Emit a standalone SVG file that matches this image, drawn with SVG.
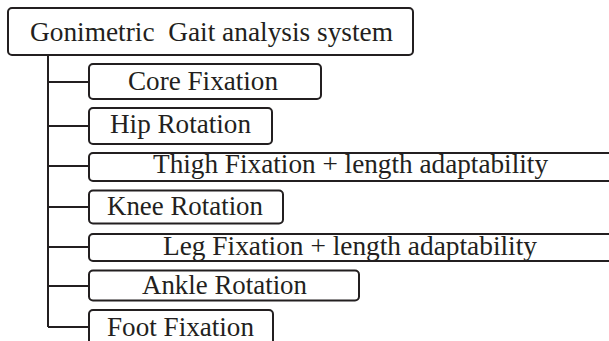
<svg xmlns="http://www.w3.org/2000/svg" width="609" height="341" viewBox="0 0 609 341">
<style>
.box{fill:#fff;stroke:#231f20;stroke-width:2}
.lbl{font-family:"Liberation Serif","Times New Roman",serif;font-size:26.5px;fill:#231f20}
.conn{fill:none;stroke:#231f20;stroke-width:2}
</style>
<rect width="609" height="341" fill="#fff"/>
<g id="connectors">
<path class="conn" d="M48 55V327M48 82H89M48 126H89M48 166H89M48 207H89M48 247H89M48 286H89M48 327H89"/>
</g>
<g id="root">
<rect class="box" x="8" y="8" width="405" height="47" rx="4"/>
<text class="lbl" x="30" y="41" textLength="363" lengthAdjust="spacingAndGlyphs" xml:space="preserve" style="white-space:pre">Gonimetric  Gait analysis system</text>
</g>
<g id="core">
<rect class="box" x="89" y="64" width="232" height="35" rx="4"/>
<text class="lbl" x="128" y="90" textLength="150" lengthAdjust="spacingAndGlyphs">Core Fixation</text>
</g>
<g id="hip">
<rect class="box" x="89" y="108" width="183" height="36" rx="4"/>
<text class="lbl" x="110" y="133" textLength="141" lengthAdjust="spacingAndGlyphs">Hip Rotation</text>
</g>
<g id="thigh">
<rect class="box" x="89" y="153" width="530" height="28" rx="4"/>
<text class="lbl" x="153" y="173" textLength="395" lengthAdjust="spacingAndGlyphs">Thigh Fixation + length adaptability</text>
</g>
<g id="knee">
<rect class="box" x="89" y="190.5" width="194" height="33" rx="4"/>
<text class="lbl" x="107" y="215" textLength="156" lengthAdjust="spacingAndGlyphs">Knee Rotation</text>
</g>
<g id="leg">
<rect class="box" x="89" y="234" width="530" height="27" rx="4"/>
<text class="lbl" x="163" y="255" textLength="374" lengthAdjust="spacingAndGlyphs">Leg Fixation + length adaptability</text>
</g>
<g id="ankle">
<rect class="box" x="89" y="270.5" width="270" height="30" rx="4"/>
<text class="lbl" x="142" y="294" textLength="165" lengthAdjust="spacingAndGlyphs">Ankle Rotation</text>
</g>
<g id="foot">
<rect class="box" x="89" y="310" width="184" height="40" rx="4"/>
<text class="lbl" x="107" y="336" textLength="147" lengthAdjust="spacingAndGlyphs">Foot Fixation</text>
</g>
</svg>
